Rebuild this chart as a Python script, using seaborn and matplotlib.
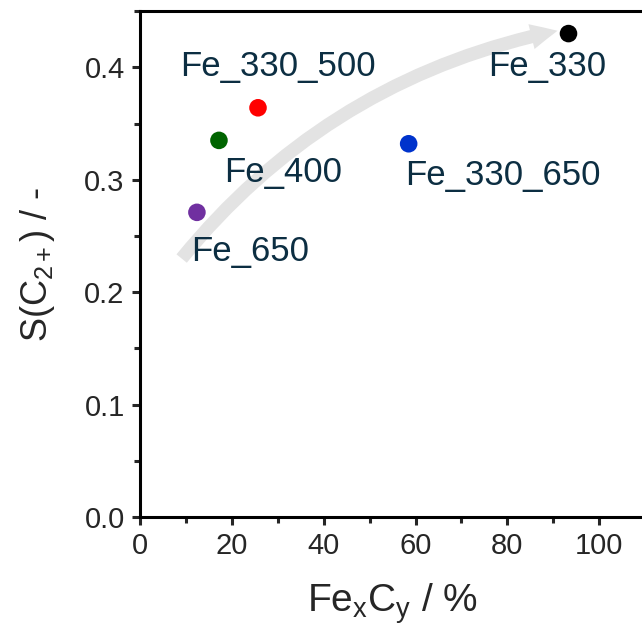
import matplotlib
matplotlib.use("Agg")
import matplotlib.pyplot as plt
import seaborn as sns
import pandas as pd
from matplotlib.patches import FancyArrowPatch
from matplotlib.ticker import MultipleLocator, FormatStrFormatter

sns.set_style("white")
plt.rcParams["font.family"] = ["Liberation Sans", "DejaVu Sans"]
plt.rcParams["mathtext.fontset"] = "custom"
plt.rcParams["mathtext.rm"] = "Liberation Sans"
plt.rcParams["mathtext.it"] = "Liberation Sans"

samples = ["Fe_330", "Fe_330_500", "Fe_400", "Fe_650", "Fe_330_650"]
fexcy = [93.3, 25.7, 17.2, 12.4, 58.5]
s_c2 = [0.430, 0.364, 0.335, 0.271, 0.332]
colors = ["#000000", "#ff0000", "#006400", "#7030a0", "#0033cc"]
# label offsets in points (dx, dy)
label_offsets = [(-15, -24), (14, 30), (46, -23), (38, -28), (68, -23)]

df = pd.DataFrame({"sample": samples, "x": fexcy, "y": s_c2})

fig = plt.figure(figsize=(6.42, 6.34), dpi=100)
ax = fig.add_axes([0.218, 0.1845, 0.787, 0.798])

# trend arrow
arrow = FancyArrowPatch((8.7, 0.228), (91.5, 0.433),
                        connectionstyle="arc3,rad=-0.18",
                        arrowstyle="simple,head_length=1.2,head_width=1.15,tail_width=0.6",
                        mutation_scale=16, color="#e3e3e3", lw=0, zorder=1)
ax.add_patch(arrow)

sns.scatterplot(data=df, x="x", y="y", hue="sample", palette=colors,
                s=160, edgecolor="none", legend=False, ax=ax, zorder=3)

for name, x, y, (dx, dy) in zip(samples, fexcy, s_c2, label_offsets):
    ax.annotate(name, (x, y), xytext=(dx, dy), textcoords="offset points",
                ha="center", va="center", fontsize=25, color="#0c2e42", zorder=4)

ax.set_xlim(0, 110)
ax.set_ylim(0, 0.45)
ax.xaxis.set_major_locator(MultipleLocator(20))
ax.xaxis.set_minor_locator(MultipleLocator(10))
ax.yaxis.set_major_locator(MultipleLocator(0.1))
ax.yaxis.set_minor_locator(MultipleLocator(0.05))
ax.yaxis.set_major_formatter(FormatStrFormatter("%.1f"))

for side in ["left", "bottom", "top"]:
    ax.spines[side].set_linewidth(2.2)
    ax.spines[side].set_color("black")
ax.spines["right"].set_visible(False)

ax.tick_params(which="major", direction="out", length=6, width=2.2,
               labelsize=21, left=True, bottom=True, pad=5)
ax.tick_params(which="minor", direction="out", length=4, width=2.2,
               left=True, bottom=True)

ax.set_xlabel(r"Fe$_\mathregular{x}$C$_\mathregular{y}$ / %", fontsize=28, labelpad=15)
ax.set_ylabel(r"S(C$_\mathregular{2+}$) / -", fontsize=26, labelpad=20)

fig.savefig("out.png", dpi=100)
